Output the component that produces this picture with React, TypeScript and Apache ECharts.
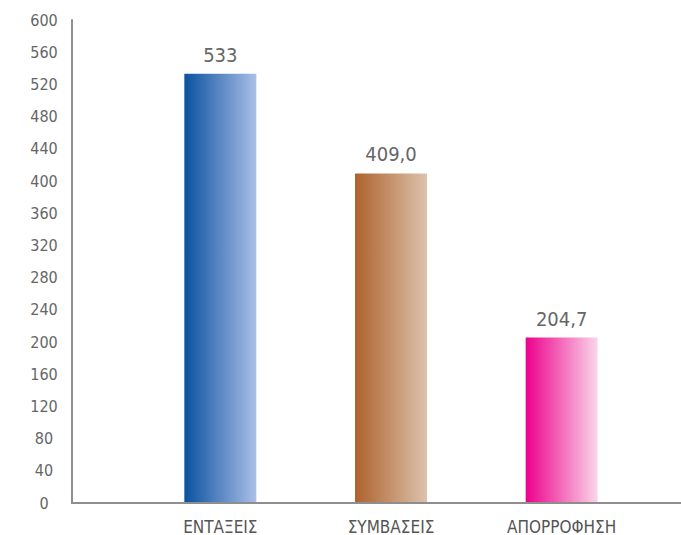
import React, { useEffect, useRef } from "react";
import * as echarts from "echarts";

const categories = ["ΕΝΤΑΞΕΙΣ", "ΣΥΜΒΑΣΕΙΣ", "ΑΠΟΡΡΟΦΗΣΗ"];
const values = [533, 409.0, 204.7];
const valueLabels = ["533", "409,0", "204,7"];
const gradientStops = [
  ["#0a519f", "#aabfe8"],
  ["#ae622c", "#dcc2ad"],
  ["#ec008c", "#fad6ea"],
];
const yMin = 0;
const yMax = 600;
const yInterval = 40;

const FONT = "'DejaVu Sans Condensed', 'Liberation Sans Narrow', Roboto, sans-serif";

export default function App() {
  const ref = useRef<HTMLDivElement>(null);
  useEffect(() => {
    if (!ref.current) return;
    document.body.style.margin = "0";
    document.body.style.overflow = "hidden";
    const chart = echarts.init(ref.current, undefined, { renderer: "svg" });
    const top = 20;
    const bottom = 32;
    chart.setOption({
      animation: false,
      backgroundColor: "#ffffff",
      grid: [
        { left: 72, right: 0, top, bottom, containLabel: false },
        { left: 135, right: 34, top, bottom, containLabel: false },
      ],
      xAxis: [
        {
          gridIndex: 0,
          type: "category",
          data: [""],
          axisLine: { show: true, lineStyle: { color: "#8e8e8e", width: 2 } },
          axisTick: { show: false },
          axisLabel: { show: false },
        },
        {
          gridIndex: 1,
          type: "category",
          data: categories,
          axisLine: { show: false },
          axisTick: { show: false },
          axisLabel: {
            color: "#555555",
            fontFamily: FONT,
            fontSize: 17,
            margin: 16,
          },
        },
      ],
      yAxis: [
        {
          gridIndex: 0,
          type: "value",
          min: yMin,
          max: yMax,
          interval: yInterval,
          axisLine: { show: true, lineStyle: { color: "#8e8e8e", width: 2 } },
          axisTick: { show: false },
          splitLine: { show: false },
          axisLabel: {
            color: "#666666",
            fontFamily: FONT,
            fontSize: 16,
            align: "center",
            margin: 28,
          },
        },
        {
          gridIndex: 1,
          type: "value",
          min: yMin,
          max: yMax,
          interval: yInterval,
          show: false,
        },
      ],
      series: [
        {
          type: "bar",
          xAxisIndex: 1,
          yAxisIndex: 1,
          barWidth: 72,
          data: values.map((v, i) => ({
            value: v,
            itemStyle: {
              color: new echarts.graphic.LinearGradient(0, 0, 1, 0, [
                { offset: 0, color: gradientStops[i][0] },
                { offset: 1, color: gradientStops[i][1] },
              ]),
            },
            label: {
              show: true,
              position: "top",
              distance: 9,
              formatter: valueLabels[i],
              color: "#666666",
              fontFamily: FONT,
              fontSize: 20,
            },
          })),
        },
      ],
    });
    return () => chart.dispose();
  }, []);
  return (
    <div
      ref={ref}
      style={{ position: "absolute", left: 0, top: 0, width: 681, height: 535 }}
    />
  );
}
